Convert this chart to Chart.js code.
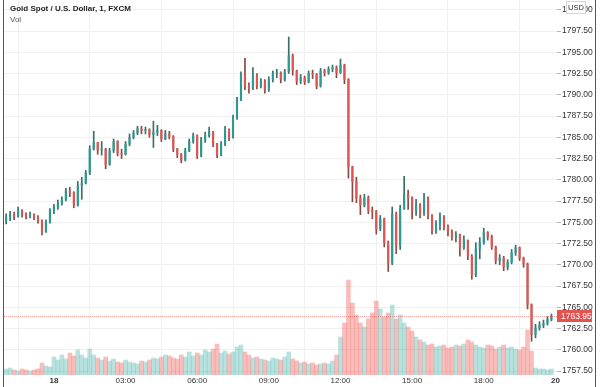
<!DOCTYPE html>
<html><head><meta charset="utf-8">
<script src="https://cdn.jsdelivr.net/npm/chart.js@4/dist/chart.umd.min.js"></script>
<style>html,body{margin:0;padding:0;background:#fff;overflow:hidden}#wrap{width:600px;height:387px;position:relative}</style>
</head><body><div id="wrap"><canvas id="c" width="600" height="387"></canvas></div>
<script>
// minutes from 18th 00:00 (10-minute candles)
const minutes = [-120,-110,-100,-90,-80,-70,-60,-50,-40,-30,
-20,-10,0,10,20,30,40,50,60,70,
80,90,100,110,120,130,140,150,160,170,
180,190,200,210,220,230,240,250,260,270,
280,290,300,310,320,330,340,350,360,370,
380,390,400,410,420,430,440,450,460,470,
480,490,500,510,520,530,540,550,560,570,
580,590,600,610,620,630,640,650,660,670,
680,690,700,710,720,730,740,750,760,770,
780,790,800,810,820,830,840,850,860,870,
880,890,900,910,920,930,940,950,960,970,
980,990,1000,1010,1020,1030,1040,1050,1060,1070,
1080,1090,1100,1110,1120,1130,1140,1150,1160,1170,
1180,1190,1200,1210,1220,1230,1240,1250];

const opens = [1775.2,1775.6,1775.9,1775.7,1776.4,1776.0,1775.7,1775.9,1775.6,1775.2,
1773.9,1775.0,1776.4,1776.8,1777.2,1777.6,1778.7,1778.5,1777.0,1779.3,
1779.6,1780.8,1783.6,1784.4,1783.5,1783.6,1781.8,1783.4,1784.5,1783.1,
1783.0,1784.2,1785.0,1785.5,1786.0,1785.8,1785.9,1785.3,1785.6,1785.8,
1784.8,1785.4,1785.1,1783.6,1783.0,1782.3,1783.4,1784.5,1785.2,1782.8,
1784.7,1785.2,1785.6,1784.2,1782.9,1784.2,1785.9,1785.0,1787.3,1789.4,
1792.4,1791.0,1790.8,1792.3,1791.0,1791.6,1790.6,1791.8,1792.5,1792.6,
1791.8,1792.7,1794.6,1792.8,1791.6,1792.0,1791.5,1792.5,1792.4,1791.0,
1792.8,1792.6,1793.0,1793.2,1792.6,1793.5,1791.8,1781.5,1779.8,1777.8,
1777.0,1777.9,1776.4,1776.3,1774.2,1775.4,1772.6,1770.2,1776.0,1772.2,
1776.6,1778.3,1777.9,1776.4,1777.0,1776.0,1777.8,1775.8,1774.0,1774.8,
1775.6,1774.5,1773.9,1773.2,1773.5,1772.0,1772.9,1771.0,1768.8,1771.9,
1772.6,1773.8,1773.3,1772.1,1770.5,1770.8,1769.7,1770.3,1771.4,1772.0,
1770.8,1770.1,1765.3,1761.8,1762.6,1762.9,1763.1,1763.6];

const highs = [1776.0,1776.3,1776.2,1776.8,1776.5,1776.1,1776.2,1776.0,1775.8,1775.3,
1775.3,1776.6,1777.1,1777.6,1778.0,1779.0,1779.1,1778.6,1779.8,1780.3,
1781.1,1784.0,1785.7,1784.4,1784.5,1783.7,1783.7,1784.8,1784.6,1783.6,
1784.5,1785.4,1785.8,1786.3,1786.3,1786.2,1786.0,1786.9,1786.4,1785.9,
1785.8,1785.7,1785.2,1783.7,1783.1,1783.7,1784.8,1785.5,1785.3,1785.0,
1785.6,1786.2,1785.7,1784.3,1784.5,1786.3,1786.0,1787.6,1789.7,1792.7,
1794.3,1791.4,1793.2,1792.5,1791.9,1791.8,1792.1,1792.8,1793.0,1792.7,
1793.0,1796.8,1794.8,1792.9,1792.4,1792.2,1792.8,1792.9,1792.5,1793.1,
1793.0,1793.3,1793.5,1793.4,1794.2,1793.6,1791.9,1781.6,1780.3,1778.2,
1778.3,1778.1,1776.8,1776.4,1775.8,1775.5,1772.8,1776.8,1776.2,1777.0,
1780.4,1778.8,1778.0,1777.7,1777.2,1778.4,1778.0,1775.9,1775.2,1776.1,
1775.8,1774.7,1774.1,1773.9,1773.6,1773.4,1772.9,1771.2,1772.6,1773.2,
1774.3,1773.9,1773.5,1772.2,1771.2,1771.0,1770.6,1771.8,1772.3,1772.1,
1770.9,1770.2,1765.4,1763.0,1763.3,1763.5,1763.9,1764.2];

const lows = [1774.8,1775.2,1775.3,1775.6,1775.6,1775.4,1775.5,1775.3,1774.9,1773.5,
1773.8,1774.9,1776.0,1776.5,1777.0,1777.5,1778.0,1776.7,1776.9,1777.7,
1779.5,1780.6,1783.5,1783.0,1782.9,1781.3,1781.7,1783.2,1782.8,1782.5,
1782.9,1784.0,1784.8,1785.3,1785.4,1785.4,1785.0,1783.8,1785.2,1784.5,
1784.7,1784.8,1783.3,1782.6,1782.0,1782.2,1783.3,1784.3,1782.5,1782.7,
1784.4,1785.0,1783.9,1782.6,1782.8,1784.0,1784.6,1784.9,1787.1,1789.3,
1790.6,1790.2,1790.6,1790.7,1790.8,1790.2,1790.4,1791.5,1792.0,1791.4,
1791.6,1792.5,1792.3,1791.2,1791.3,1791.2,1791.4,1791.9,1790.7,1790.9,
1792.2,1792.4,1792.7,1792.0,1792.5,1791.3,1780.2,1777.4,1777.3,1775.9,
1776.8,1776.0,1775.4,1773.6,1774.0,1772.1,1769.2,1770.0,1771.3,1771.8,
1776.5,1776.5,1775.4,1775.8,1775.5,1775.8,1775.4,1773.6,1773.7,1774.1,
1774.1,1773.4,1772.9,1772.7,1771.0,1771.8,1770.6,1768.3,1768.6,1770.7,
1772.4,1772.9,1771.8,1770.1,1770.0,1769.3,1769.4,1770.1,1771.1,1770.5,
1769.7,1764.8,1761.0,1761.4,1762.3,1762.6,1762.9,1763.4];

const closes = [1775.6,1775.9,1775.7,1776.4,1776.0,1775.7,1775.9,1775.6,1775.2,1773.9,
1775.0,1776.4,1776.8,1777.2,1777.6,1778.7,1778.5,1777.0,1779.3,1779.6,
1780.8,1783.6,1784.4,1783.5,1783.6,1781.8,1783.4,1784.5,1783.1,1783.0,
1784.2,1785.0,1785.5,1786.0,1785.8,1785.9,1785.3,1785.6,1785.8,1784.8,
1785.4,1785.1,1783.6,1783.0,1782.3,1783.4,1784.5,1785.2,1782.8,1784.7,
1785.2,1785.6,1784.2,1782.9,1784.2,1785.9,1785.0,1787.3,1789.4,1792.4,
1791.0,1790.8,1792.3,1791.0,1791.6,1790.6,1791.8,1792.5,1792.6,1791.8,
1792.7,1794.6,1792.8,1791.6,1792.0,1791.5,1792.5,1792.4,1791.0,1792.8,
1792.6,1793.0,1793.2,1792.6,1793.5,1791.8,1781.5,1779.8,1777.8,1777.0,
1777.9,1776.4,1776.3,1774.2,1775.4,1772.6,1770.2,1776.0,1772.2,1776.6,
1778.3,1777.9,1776.4,1777.0,1776.0,1777.8,1775.8,1774.0,1774.8,1775.6,
1774.5,1773.9,1773.2,1773.5,1772.0,1772.9,1771.0,1768.8,1771.9,1772.6,
1773.8,1773.3,1772.1,1770.5,1770.8,1769.7,1770.3,1771.4,1772.0,1770.8,
1770.1,1765.3,1761.8,1762.6,1762.9,1763.1,1763.6,1763.95];

const volumes = [60,70,50,40,60,50,40,50,60,120,
90,80,180,150,200,160,220,190,250,200,
170,260,200,170,150,180,140,160,130,120,
150,130,120,110,140,130,150,170,160,180,
200,190,170,160,200,180,230,190,220,200,
250,230,260,310,220,240,210,230,280,300,
230,200,170,180,160,150,140,170,160,150,
180,230,160,140,120,130,110,120,100,110,
120,110,140,200,380,520,950,720,600,520,
480,560,620,740,660,580,620,700,560,600,
520,480,440,380,350,330,300,310,280,290,
300,270,280,300,290,310,350,330,300,280,
270,300,290,260,280,300,270,280,260,250,
280,450,240,70,60,60,50,60];

const xTickMinutes = [0,180,360,540,720,900,1080,1260];
const xTickLabels = ['18','03:00','06:00','09:00','12:00','15:00','18:00','20'];
const dayLabels = ['18','20'];
const priceTicks = [1757.5,1760,1762.5,1765,1767.5,1770,1772.5,1775,1777.5,1780,1782.5,1785,1787.5,1790,1792.5,1795,1797.5,1800];
const titleText = 'Gold Spot / U.S. Dollar, 1, FXCM';
const volText = 'Vol';
const currencyText = 'USD';

const FONT = "'Liberation Sans', Arial, sans-serif";
const UP = '#2b9a8f', DOWN = '#e25451';
const isUp = closes.map((c,i)=>c>=opens[i]);

const volData = minutes.map((m,i)=>({x:m, y:volumes[i]}));
const wickData = minutes.map((m,i)=>({x:m, y:[lows[i], highs[i]]}));
const bodyData = minutes.map((m,i)=>({x:m, y:[opens[i], closes[i]]}));

const overlay = {
  id:'overlay',
  afterDatasetsDraw(chart){
    const {ctx, chartArea:a, scales:{y}} = chart;
    const last = closes[closes.length-1];
    const py = Math.round(y.getPixelForValue(last)) + 0.5;
    ctx.save();
    ctx.strokeStyle = 'rgba(239,83,80,0.55)';
    ctx.lineWidth = 1;
    ctx.setLineDash([1,1]);
    ctx.beginPath(); ctx.moveTo(a.left, py); ctx.lineTo(a.right, py); ctx.stroke();
    ctx.restore();
  },
  afterDraw(chart){
    const {ctx, chartArea:a, scales:{y}} = chart;
    const last = closes[closes.length-1];
    const py = Math.round(y.getPixelForValue(last));
    ctx.save();
    // last price label
    ctx.fillStyle = DOWN;
    ctx.fillRect(a.right, py-6, 35, 12);
    ctx.fillStyle = '#fff';
    ctx.font = "8.5px " + FONT;
    ctx.textBaseline = 'middle'; ctx.textAlign = 'left';
    ctx.fillText(last.toFixed(2), a.right+4, py+0.5);
    // currency box
    ctx.fillStyle = '#fff';
    ctx.fillRect(566, 1, 20, 13);
    ctx.strokeStyle = '#d6d6d6';
    ctx.strokeRect(566.5, 1.5, 19, 12);
    ctx.fillStyle = '#333';
    ctx.font = "7.5px " + FONT;
    ctx.textAlign = 'center';
    ctx.fillText(currencyText, 576, 8);
    // title & vol
    ctx.textAlign = 'left';
    ctx.fillStyle = '#1e1e1e';
    ctx.font = "bold 8px " + FONT;
    ctx.fillText(titleText, 10, 9);
    ctx.fillStyle = '#555';
    ctx.font = "8px " + FONT;
    ctx.fillText(volText, 10, 20);
    // frame
    ctx.strokeStyle = '#555';
    ctx.lineWidth = 1;
    ctx.beginPath(); ctx.moveTo(3.5, 0); ctx.lineTo(3.5, 387); ctx.stroke();
    ctx.beginPath(); ctx.moveTo(595.5, 0); ctx.lineTo(595.5, 387); ctx.stroke();
    ctx.restore();
  }
};

new Chart(document.getElementById('c'), {
  type:'bar',
  data:{datasets:[
    {label:'Vol', data:volData, yAxisID:'yv', grouped:false, order:3, barThickness:4,
     backgroundColor:isUp.map(u=>u?'rgba(38,166,154,0.32)':'rgba(239,83,80,0.38)')},
    {label:'wick', data:wickData, yAxisID:'y', grouped:false, order:2, barThickness:1,
     backgroundColor:isUp.map(u=>u?'#3a6e69':'#874846')},
    {label:'body', data:bodyData, yAxisID:'y', grouped:false, order:1, barThickness:1.5, minBarLength:1,
     backgroundColor:isUp.map(u=>u?UP:DOWN)}
  ]},
  options:{
    responsive:false, animation:false, events:[],
    layout:{padding:{left:4, right:0, top:0, bottom:0}},
    plugins:{legend:{display:false}, tooltip:{enabled:false}},
    scales:{
      x:{type:'linear', min:-125.4, max:1264, offset:false,
        afterBuildTicks(s){ s.ticks = xTickMinutes.map(v=>({value:v})); },
        afterFit(s){ s.height = 12; s.paddingLeft = 0; s.paddingRight = 0; },
        grid:{color:'#f0f0f0', drawTicks:false}, border:{display:false},
        ticks:{padding:1, autoSkip:false, maxRotation:0, color:'#333',
          font:(c)=>{ const i = xTickMinutes.indexOf(c.tick ? c.tick.value : -1); const lab = xTickLabels[i];
            return {family:FONT, size:8, weight: dayLabels.includes(lab)?'bold':'normal'}; },
          callback:(v)=>{ const i = xTickMinutes.indexOf(v); return i>=0 ? xTickLabels[i] : ''; }}
      },
      y:{position:'right', min:1757.03, max:1801.15,
        afterBuildTicks(s){ s.ticks = priceTicks.map(v=>({value:v})); },
        afterFit(s){ s.width = 43; s.paddingTop = 0; s.paddingBottom = 0; },
        grid:{color:'#f0f0f0', tickColor:'#b5b5b5', tickLength:4}, border:{display:false},
        ticks:{padding:1, color:'#333', font:{family:FONT, size:8.5}, callback:(v)=>Number(v).toFixed(2)}
      },
      yv:{display:false, min:0, max:3750}
    }
  },
  plugins:[overlay]
});
</script></body></html>
